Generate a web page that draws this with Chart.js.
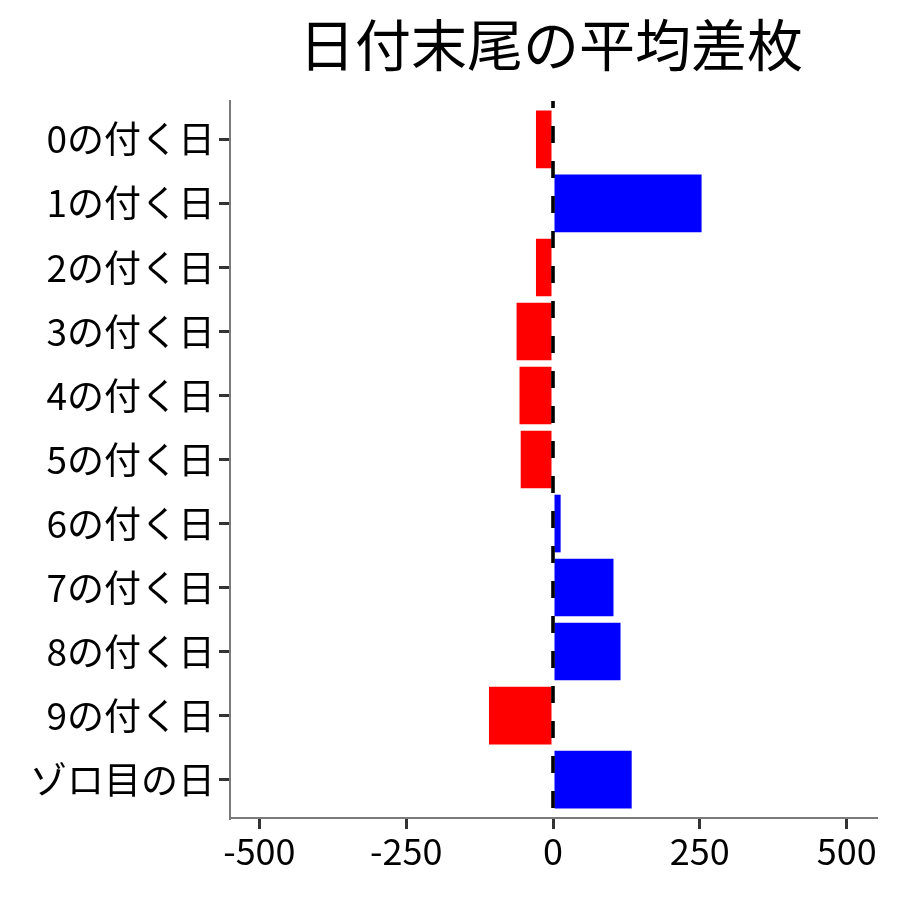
<!DOCTYPE html>
<html lang="ja">
<head>
    <meta charset="UTF-8">
    <title>日付末尾の平均差枚</title>
    <script src="https://cdn.jsdelivr.net/npm/chart.js"></script>
    <style>
        html, body { margin: 0; padding: 0; background: #fff; }
        #wrap { width: 900px; height: 900px; }
    </style>
</head>
<body>
    <div id="wrap"><canvas id="diffChart" width="900" height="900"></canvas></div>

    <script>
        // data
        const title = '日付末尾の平均差枚';
        const dayLabels = ['0の付く日', '1の付く日', '2の付く日', '3の付く日', '4の付く日',
                           '5の付く日', '6の付く日', '7の付く日', '8の付く日', '9の付く日', 'ゾロ目の日'];
        const avgDiff = [-29, 253, -29, -62, -57, -55, 13, 103, 115, -109, 134];
        const xTicks = [-500, -250, 0, 250, 500];

        Chart.defaults.font.family = "'Noto Sans CJK JP', 'Noto Sans', sans-serif";
        Chart.defaults.color = '#000';

        // title centred over the plot panel, like ggplot
        const panelTitle = {
            id: 'panelTitle',
            afterDraw(chart) {
                const ctx = chart.ctx;
                const a = chart.chartArea;
                ctx.save();
                ctx.fillStyle = '#000';
                ctx.font = "56px 'Noto Sans CJK JP'";
                ctx.textAlign = 'center';
                ctx.textBaseline = 'middle';
                ctx.fillText(title, (a.left + a.right) / 2 - 2, 45);
                ctx.restore();
            }
        };

        // dashed reference line at zero
        const zeroLine = {
            id: 'zeroLine',
            afterDatasetsDraw(chart) {
                const ctx = chart.ctx;
                const a = chart.chartArea;
                const x = chart.scales.x.getPixelForValue(0);
                ctx.save();
                ctx.strokeStyle = '#000';
                ctx.lineWidth = 3.6;
                ctx.setLineDash([17, 18]);
                ctx.lineDashOffset = 10;
                ctx.beginPath();
                ctx.moveTo(x, a.top);
                ctx.lineTo(x, a.bottom);
                ctx.stroke();
                ctx.restore();
            }
        };

        const ctx = document.getElementById('diffChart').getContext('2d');
        new Chart(ctx, {
            type: 'bar',
            data: {
                datasets: [{
                    data: avgDiff.map((v, i) => ({ x: v, y: i })),
                    backgroundColor: c => (c.raw && c.raw.x < 0) ? '#ff0000' : '#0000ff',
                    borderWidth: 0,
                    categoryPercentage: 1,
                    barPercentage: 0.9
                }]
            },
            options: {
                indexAxis: 'y',
                responsive: false,
                animation: false,
                layout: { padding: { top: 101, right: 24, left: 0, bottom: 0 } },
                plugins: {
                    legend: { display: false },
                    tooltip: { enabled: false }
                },
                scales: {
                    x: {
                        type: 'linear',
                        min: -550,
                        max: 550,
                        afterBuildTicks: s => { s.ticks = xTicks.map(v => ({ value: v })); },
                        afterFit: s => { s.height = 82; },
                        grid: { drawOnChartArea: false, drawTicks: true, tickLength: 11, color: '#333', lineWidth: 3 },
                        border: { display: true, color: '#7a7a7a', width: 2 },
                        ticks: { font: { size: 36 }, color: '#000', padding: 1, maxRotation: 0 }
                    },
                    y: {
                        type: 'linear',
                        reverse: true,
                        offset: false,
                        min: -0.6,
                        max: 10.6,
                        afterBuildTicks: s => { s.ticks = dayLabels.map((_, i) => ({ value: i })); },
                        afterFit: s => { s.width = 230; },
                        grid: { offset: false, drawOnChartArea: false, drawTicks: true, tickLength: 11, color: '#333', lineWidth: 3 },
                        border: { display: true, color: '#7a7a7a', width: 2 },
                        ticks: {
                            font: { size: 37 },
                            color: '#000',
                            padding: 4,
                            autoSkip: false,
                            callback: v => dayLabels[v] ?? ''
                        }
                    }
                }
            },
            plugins: [panelTitle, zeroLine]
        });
    </script>
</body>
</html>
